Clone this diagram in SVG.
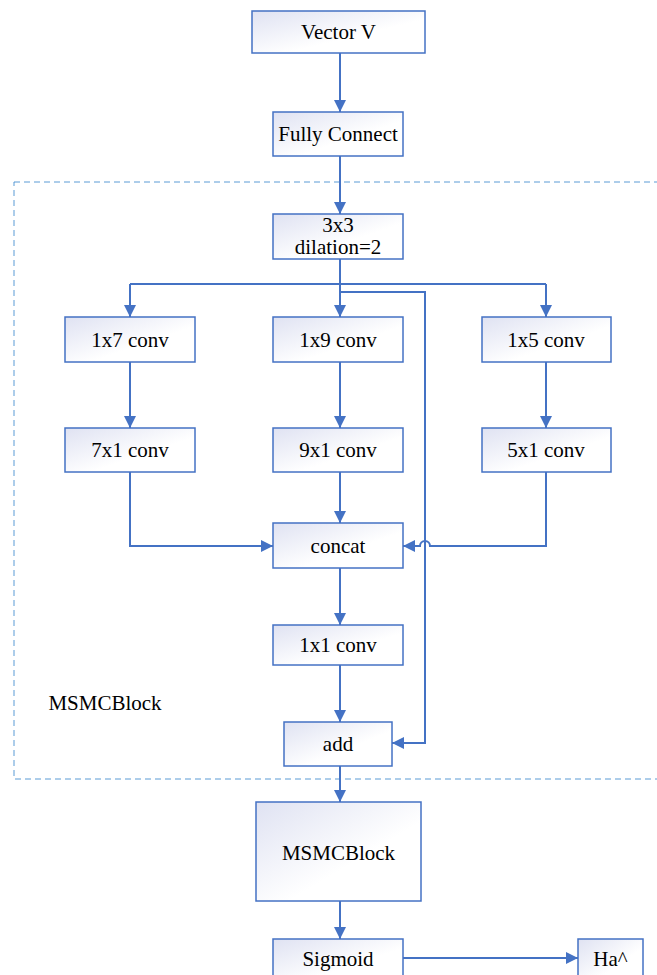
<svg xmlns="http://www.w3.org/2000/svg" width="657" height="975" viewBox="0 0 657 975">
<defs>
<linearGradient id="g" x1="0" y1="0" x2="1" y2="1">
<stop offset="0" stop-color="#dfe2f2"/>
<stop offset="0.6" stop-color="#ffffff"/>
</linearGradient>
<marker id="a" viewBox="0 0 12 12" refX="12" refY="6" markerWidth="12" markerHeight="12" markerUnits="userSpaceOnUse" orient="auto">
<path d="M0,0 L12,6 L0,12 z" fill="#4472C4"/>
</marker>
<style>
.n rect{fill:url(#g);stroke:#4472C4;stroke-width:1.5}
.c path{fill:none;stroke:#4472C4;stroke-width:2}
.dash{fill:none;stroke:#5B9BD5;stroke-width:1;stroke-dasharray:6,4}
</style>
</defs>
<g font-family="Liberation Serif, serif" font-size="21" text-anchor="middle" fill="#000">
<rect class="dash" x="14" y="182" width="700" height="597"/>
<text x="105" y="710">MSMCBlock</text>
<g class="c">
<path d="M340,53 V112" marker-end="url(#a)"/>
<path d="M340,156 V214" marker-end="url(#a)"/>
<path d="M340,259 V317" marker-end="url(#a)"/>
<path d="M130,284 H546"/>
<path d="M130,284 V317" marker-end="url(#a)"/>
<path d="M546,284 V317" marker-end="url(#a)"/>
<path d="M340,292 H425 V743 H392" marker-end="url(#a)"/>
<path d="M130,362 V428" marker-end="url(#a)"/>
<path d="M340,362 V428" marker-end="url(#a)"/>
<path d="M546,362 V428" marker-end="url(#a)"/>
<path d="M130,472 V546 H273" marker-end="url(#a)"/>
<path d="M340,472 V523" marker-end="url(#a)"/>
<path d="M546,472 V546 H430 A5,5 0 0 0 420,546 H403" marker-end="url(#a)"/>
<path d="M340,568 V625" marker-end="url(#a)"/>
<path d="M340,665 V722" marker-end="url(#a)"/>
<path d="M340,766 V802" marker-end="url(#a)"/>
<path d="M340,901 V939" marker-end="url(#a)"/>
<path d="M403,958 H578" marker-end="url(#a)"/>
</g>
<g id="vector" class="n"><rect x="252" y="11" width="173" height="42"/><text x="338.5" y="39">Vector V</text></g>
<g id="fc" class="n"><rect x="273" y="112" width="130" height="44"/><text x="338" y="141">Fully Connect</text></g>
<g id="dil" class="n"><rect x="273" y="214" width="130" height="45"/><text x="338" y="232">3x3</text><text x="338" y="254">dilation=2</text></g>
<g id="c17" class="n"><rect x="65" y="317" width="130" height="45"/><text x="130" y="347">1x7 conv</text></g>
<g id="c19" class="n"><rect x="273" y="317" width="130" height="45"/><text x="338" y="347">1x9 conv</text></g>
<g id="c15" class="n"><rect x="482" y="317" width="129" height="45"/><text x="546" y="347">1x5 conv</text></g>
<g id="c71" class="n"><rect x="65" y="428" width="130" height="44"/><text x="130" y="457">7x1 conv</text></g>
<g id="c91" class="n"><rect x="273" y="428" width="130" height="44"/><text x="338" y="457">9x1 conv</text></g>
<g id="c51" class="n"><rect x="482" y="428" width="129" height="44"/><text x="546" y="457">5x1 conv</text></g>
<g id="concat" class="n"><rect x="273" y="523" width="130" height="45"/><text x="338" y="553">concat</text></g>
<g id="c11" class="n"><rect x="273" y="625" width="130" height="40"/><text x="338" y="652">1x1 conv</text></g>
<g id="add" class="n"><rect x="284" y="722" width="108" height="44"/><text x="338" y="751">add</text></g>
<g id="msmc" class="n"><rect x="256" y="802" width="165" height="99"/><text x="338.5" y="860">MSMCBlock</text></g>
<g id="sig" class="n"><rect x="273" y="939" width="130" height="45"/><text x="338" y="966">Sigmoid</text></g>
<g id="ha" class="n"><rect x="578" y="939" width="65" height="45"/><text x="610.5" y="966">Ha^</text></g>
</g>
</svg>
